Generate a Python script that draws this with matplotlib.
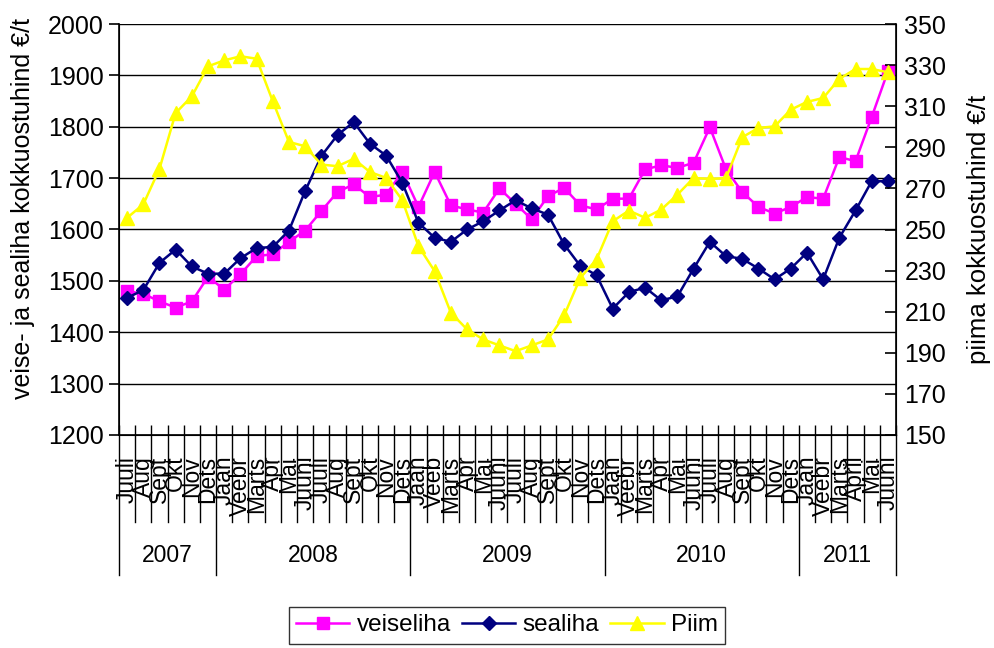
import matplotlib
matplotlib.use('Agg')
from matplotlib import pyplot as plt

plt.rcParams['font.family'] = ['Liberation Sans', 'DejaVu Sans']

months = ['Juuli', 'Aug', 'Sept', 'Okt', 'Nov', 'Dets',
          'Jaan', 'Veebr', 'Marts', 'Apr', 'Mai', 'Juuni', 'Juuli', 'Aug', 'Sept', 'Okt', 'Nov', 'Dets',
          'Jaan', 'Veeb', 'Marts', 'Apr', 'Mai', 'Juuni', 'Juuli', 'Aug', 'Sept', 'Okt', 'Nov', 'Dets',
          'Jaan', 'Veebr', 'Marts', 'Apr', 'Mai', 'Juuni', 'Juuli', 'Aug', 'Sept', 'Okt', 'Nov', 'Dets',
          'Jaan', 'Veebr', 'Marts', 'April', 'Mai', 'Juuni']
years = ['2007', '2008', '2009', '2010', '2011']
months_per_year = [6, 12, 12, 12, 6]

veiseliha = [1480, 1475, 1460, 1448, 1460, 1508, 1483, 1513, 1548, 1552, 1576, 1598,
             1636, 1673, 1688, 1663, 1668, 1712, 1644, 1712, 1647, 1639, 1633, 1680,
             1650, 1620, 1665, 1681, 1647, 1639, 1660, 1660, 1717, 1725, 1720, 1730,
             1799, 1717, 1673, 1644, 1631, 1644, 1663, 1660, 1741, 1733, 1819, 1908]
sealiha = [1467, 1482, 1535, 1561, 1528, 1514, 1514, 1544, 1564, 1566, 1598, 1675,
           1743, 1784, 1809, 1767, 1744, 1691, 1613, 1584, 1576, 1600, 1616, 1637,
           1657, 1641, 1629, 1571, 1529, 1511, 1446, 1478, 1487, 1462, 1470, 1524,
           1576, 1548, 1543, 1524, 1503, 1524, 1555, 1503, 1584, 1637, 1694, 1694]
piim = [255.7, 262.2, 279.5, 306.7, 314.8, 329.4, 332.3, 334.3, 333.1, 312.4, 292.6, 290.5,
        281.6, 280.8, 284.4, 278.0, 275.1, 264.3, 241.9, 229.7, 209.5, 201.4, 196.5, 193.6,
        190.8, 193.6, 196.5, 208.2, 226.5, 235.4, 254.0, 259.2, 255.7, 259.7, 267.0, 275.1,
        274.6, 275.0, 294.9, 299.4, 300.2, 308.3, 312.1, 314.0, 323.3, 328.1, 328.1, 326.5]

x = list(range(len(months)))

fig = plt.figure(figsize=(9.94, 6.48), dpi=100)
ax = fig.add_axes([119 / 994, 1 - 435 / 648, 777 / 994, 411 / 648])
ax2 = ax.twinx()

l1, = ax.plot(x, veiseliha, color='#FF00FF', lw=1.8, marker='s', ms=8.5, label='veiseliha')
l2, = ax.plot(x, sealiha, color='#000080', lw=1.8, marker='D', ms=7.5, label='sealiha')
l3, = ax2.plot(x, piim, color='#FFFF00', lw=1.8, marker='^', ms=10, label='Piim')

ax.set_xlim(-0.5, len(months) - 0.5)
ax.set_ylim(1200, 2000)
ax.set_yticks(range(1200, 2001, 100))
ax2.set_ylim(150, 350)
ax2.set_yticks(range(150, 351, 20))

ax.grid(axis='y', color='black', lw=1)
ax.set_axisbelow(True)
ax.spines['top'].set_visible(False)
ax2.spines['top'].set_visible(False)
for s in ['left', 'right', 'bottom']:
    ax2.spines[s].set_linewidth(1.2)

ax.tick_params(axis='y', labelsize=18, direction='out', length=7, width=1.2, pad=4)
ax2.tick_params(axis='y', labelsize=18, direction='in', length=8, width=1.2, pad=6)

# month labels under each category, separators between categories
ax.set_xticks(x)
ax.set_xticklabels(months, rotation=90, fontsize=16.5)
ax.tick_params(axis='x', which='major', length=0, pad=15)
bounds = [i - 0.5 for i in range(len(months) + 1)]
ax.set_xticks(bounds, minor=True)
ax.tick_params(axis='x', which='minor', direction='in', length=7, width=1)

trans = ax.get_xaxis_transform()
year_bounds = [-0.5]
for n in months_per_year:
    year_bounds.append(year_bounds[-1] + n)
for b in bounds:
    bottom = -0.341 if b in year_bounds else -0.212
    ax.plot([b, b], [0, bottom], color='black', lw=1, transform=trans, clip_on=False)
for i, yr in enumerate(years):
    mid = (year_bounds[i] + year_bounds[i + 1]) / 2
    ax.text(mid, -0.292, yr, transform=trans, ha='center', va='center', fontsize=16.5)

ax.set_ylabel('veise- ja sealiha kokkuostuhind €/t', fontsize=18)
ax.yaxis.set_label_coords(-0.108, 0.552)
ax2.set_ylabel('piima kokkuostuhind €/t', fontsize=18.5)
ax2.yaxis.set_label_coords(1.091, 0.50)

leg = fig.legend(handles=[l1, l2, l3], loc='center', bbox_to_anchor=(0.51, 0.035), ncol=3,
                 fontsize=17.5, frameon=True, fancybox=False, edgecolor='black',
                 handlelength=2.2, columnspacing=0.45, handletextpad=0.3, borderpad=0.3)
leg.get_frame().set_linewidth(1)

fig.savefig('out.png', dpi=100)
